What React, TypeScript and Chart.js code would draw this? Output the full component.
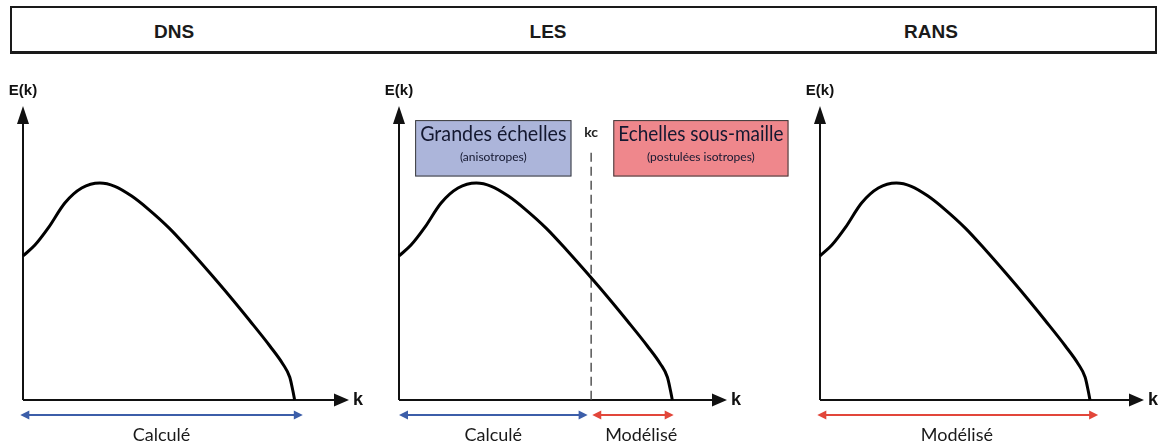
import React, { useEffect, useRef } from 'react';
import { Chart, registerables } from 'chart.js';

Chart.register(...registerables);

// ---- data ----
const methods = ['DNS', 'LES', 'RANS'];
const kValues = [0, 4.4, 9.3, 15.4, 21.6, 28.3, 33.8, 40, 46.1, 54, 61.4, 68.8, 76.1, 83.5, 90.8, 95.7, 98.2, 99.3, 100];
const energyValues = [0.664, 0.714, 0.793, 0.908, 0.977, 1.0, 0.985, 0.94, 0.88, 0.79, 0.69, 0.585, 0.478, 0.365, 0.25, 0.165, 0.105, 0.045, 0];
const kMax = 120;
const eMax = 1.355;
const kCut = 70.3;
const kCutTop = 1.14;
const cutLabel = 'kc';
const yAxisLabel = 'E(k)';
const xAxisLabel = 'k';

// resolved ranges under each spectrum (panel index, start k, end k, label, label k)
const rangePanels = [0, 1, 1, 2];
const rangeStarts = [-1, 0, 70.7, -1];
const rangeEnds = [103, 69, 100.5, 103];
const rangeLabels = ['Calculé', 'Calculé', 'Modélisé', 'Modélisé'];
const rangeLabelAt = [51, 34.5, 88.6, 50.7];
const rangeKinds = ['computed', 'computed', 'modelled', 'modelled'];

// LES scale boxes (k from, k to, E top, E bottom)
const boxTitles = ['Grandes échelles', 'Echelles sous-maille'];
const boxSubtitles = ['(anisotropes)', '(postulées isotropes)'];
const boxKFrom = [5.9, 78.4];
const boxKTo = [63.1, 142.5];
const boxETop = [1.29, 1.29];
const boxEBottom = [1.03, 1.03];
const boxKinds = ['computed', 'modelled'];

// ---- styles ----
const COLORS: Record<string, string> = { computed: '#3c5ea9', modelled: '#e2463a' };
const BOX_FILL: Record<string, string> = { computed: '#acb5da', modelled: '#ef878c' };
const TEXT_FONT = "Lato, 'Open Sans', sans-serif";
const BOLD_FONT = "'Liberation Sans', Arial, sans-serif";

const PANELS = [
  { left: 0, width: 380, padLeft: 23, padRight: 31 },
  { left: 380, width: 420, padLeft: 19, padRight: 73 },
  { left: 800, width: 364, padLeft: 20, padRight: 20 },
];
const CANVAS_TOP = 60;
const CANVAS_H = 383;
const PAD_TOP = 46;
const PAD_BOTTOM = 43;

function arrowHead(ctx: CanvasRenderingContext2D, tx: number, ty: number, dx: number, dy: number, len: number, half: number) {
  const bx = tx - dx * len;
  const by = ty - dy * len;
  ctx.beginPath();
  ctx.moveTo(tx, ty);
  ctx.lineTo(bx - dy * half, by + dx * half);
  ctx.lineTo(bx + dy * half, by - dx * half);
  ctx.closePath();
  ctx.fill();
}

function makePlugin(index: number) {
  return {
    id: 'spectrumOverlay' + index,
    beforeDatasetsDraw(chart: any) {
      const ctx: CanvasRenderingContext2D = chart.ctx;
      const { right, top } = chart.chartArea;
      const xs = chart.scales.x;
      const ys = chart.scales.y;
      const x0 = xs.getPixelForValue(0);
      const y0 = ys.getPixelForValue(0);
      ctx.save();
      // axes
      ctx.strokeStyle = '#111';
      ctx.fillStyle = '#111';
      ctx.lineWidth = 2;
      ctx.beginPath();
      ctx.moveTo(x0, y0);
      ctx.lineTo(x0, top + 12);
      ctx.moveTo(x0, y0);
      ctx.lineTo(right - 12, y0);
      ctx.stroke();
      arrowHead(ctx, x0, top, 0, -1, 18, 6);
      arrowHead(ctx, right, y0, 1, 0, 15, 6.5);
      // axis labels
      ctx.font = 'bold 15px ' + BOLD_FONT;
      ctx.textAlign = 'center';
      ctx.textBaseline = 'middle';
      ctx.fillText(yAxisLabel, x0, top - 15);
      ctx.font = 'bold 18px ' + BOLD_FONT;
      ctx.textAlign = 'left';
      ctx.fillText(xAxisLabel, right + 4, y0);

      // cut-off in LES
      if (methods[index] === 'LES') {
        const xc = xs.getPixelForValue(kCut);
        const yt = ys.getPixelForValue(kCutTop);
        ctx.strokeStyle = '#555';
        ctx.lineWidth = 1.5;
        ctx.setLineDash([9, 5]);
        ctx.beginPath();
        ctx.moveTo(xc, yt);
        ctx.lineTo(xc, y0);
        ctx.stroke();
        ctx.setLineDash([]);
        ctx.fillStyle = '#222';
        ctx.font = 'bold 14px ' + TEXT_FONT;
        ctx.textAlign = 'center';
        ctx.fillText(cutLabel, xc, yt - 20);

        for (let b = 0; b < boxTitles.length; b++) {
          const bx1 = xs.getPixelForValue(boxKFrom[b]);
          const bx2 = xs.getPixelForValue(boxKTo[b]);
          const by1 = ys.getPixelForValue(boxETop[b]);
          const by2 = ys.getPixelForValue(boxEBottom[b]);
          ctx.fillStyle = BOX_FILL[boxKinds[b]];
          ctx.fillRect(bx1, by1, bx2 - bx1, by2 - by1);
          ctx.strokeStyle = '#3a3a3a';
          ctx.lineWidth = 1;
          ctx.strokeRect(bx1 + 0.5, by1 + 0.5, bx2 - bx1 - 1, by2 - by1 - 1);
          const cx = (bx1 + bx2) / 2;
          ctx.fillStyle = '#141830';
          ctx.textAlign = 'center';
          ctx.font = '21px ' + TEXT_FONT;
          const w = ctx.measureText(boxTitles[b]).width;
          const target = bx2 - bx1 - 10;
          ctx.save();
          const sc = w > target ? target / w : 1;
          ctx.translate(cx, by1 + 14);
          ctx.scale(sc, 1);
          ctx.fillText(boxTitles[b], 0, 0);
          ctx.restore();
          ctx.font = '12px ' + TEXT_FONT;
          ctx.fillText(boxSubtitles[b], cx, by1 + 37);
        }
      }

      // resolved-range double arrows
      for (let r = 0; r < rangePanels.length; r++) {
        if (rangePanels[r] !== index) continue;
        const col = COLORS[rangeKinds[r]];
        const xa = xs.getPixelForValue(rangeStarts[r]);
        const xb = xs.getPixelForValue(rangeEnds[r]);
        const ya = y0 + 15;
        ctx.strokeStyle = col;
        ctx.fillStyle = col;
        ctx.lineWidth = 2;
        ctx.beginPath();
        ctx.moveTo(xa + 6, ya);
        ctx.lineTo(xb - 6, ya);
        ctx.stroke();
        arrowHead(ctx, xa, ya, -1, 0, 9, 4.5);
        arrowHead(ctx, xb, ya, 1, 0, 9, 4.5);
        ctx.fillStyle = '#1a1a1a';
        ctx.font = '18px ' + TEXT_FONT;
        ctx.textAlign = 'center';
        ctx.textBaseline = 'middle';
        ctx.fillText(rangeLabels[r], xs.getPixelForValue(rangeLabelAt[r]), y0 + 35);
      }
      ctx.restore();
    },
  };
}

function Panel({ index }: { index: number }) {
  const ref = useRef<HTMLCanvasElement>(null);
  const p = PANELS[index];
  useEffect(() => {
    const canvas = ref.current!;
    const chart = new Chart(canvas, {
      type: 'line',
      data: {
        datasets: [
          {
            data: kValues.map((k, i) => ({ x: k, y: energyValues[i] })),
            borderColor: '#000',
            borderWidth: 3,
            pointRadius: 0,
            fill: false,
            cubicInterpolationMode: 'monotone',
            borderJoinStyle: 'round',
            clip: false,
          } as any,
        ],
      },
      options: {
        animation: false,
        responsive: false,
        devicePixelRatio: 1,
        events: [],
        layout: { padding: { left: p.padLeft, right: p.padRight, top: PAD_TOP, bottom: PAD_BOTTOM } },
        plugins: { legend: { display: false }, tooltip: { enabled: false }, title: { display: false } },
        scales: {
          x: { type: 'linear', min: 0, max: kMax, display: false },
          y: { type: 'linear', min: 0, max: eMax, display: false },
        },
      },
      plugins: [makePlugin(index)],
    });
    return () => chart.destroy();
  }, []);
  return (
    <canvas
      ref={ref}
      width={p.width}
      height={CANVAS_H}
      style={{ position: 'absolute', left: p.left, top: CANVAS_TOP, width: p.width, height: CANVAS_H }}
    />
  );
}

const HEADER_CENTERS = [174, 548, 931];

export default function App() {
  return (
    <div style={{ position: 'fixed', left: 0, top: 0, width: 1164, height: 443, background: '#fff', overflow: 'hidden' }}>
      <div
        style={{
          position: 'absolute',
          left: 10,
          top: 6,
          width: 1147,
          height: 48,
          border: '2px solid #1a1a1a',
          borderBottomWidth: 3,
          boxSizing: 'border-box',
        }}
      />
      {methods.map((m, i) => (
        <div
          key={m}
          style={{
            position: 'absolute',
            left: HEADER_CENTERS[i],
            top: 32,
            transform: 'translate(-50%, -50%)',
            font: 'bold 19px ' + BOLD_FONT,
            color: '#1a1a1a',
            whiteSpace: 'nowrap',
          }}
        >
          {m}
        </div>
      ))}
      {methods.map((m, i) => (
        <Panel key={m} index={i} />
      ))}
    </div>
  );
}
